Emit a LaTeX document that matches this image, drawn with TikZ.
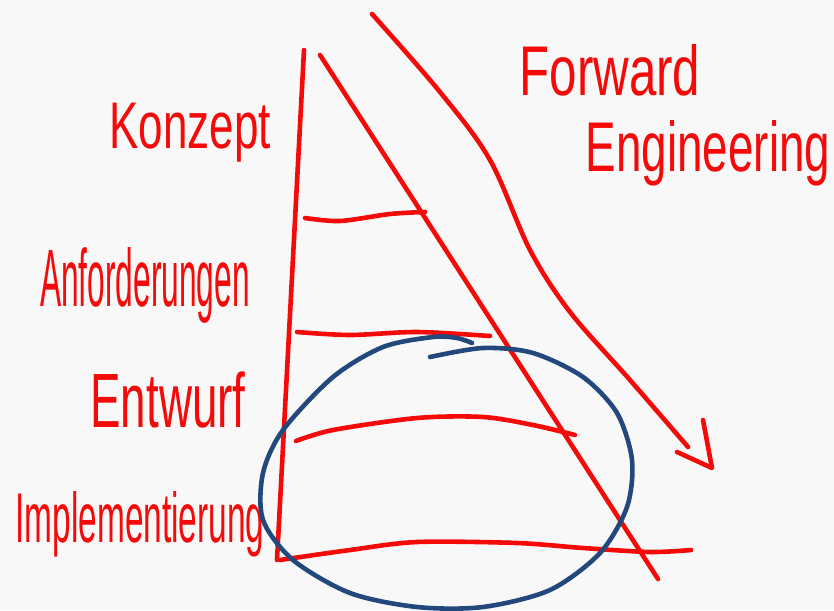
\documentclass[tikz,border=0pt]{standalone}
\usepackage{fontspec}
\setmainfont{Liberation Sans}
\usepackage{tikz}
\usetikzlibrary{arrows.meta}
\definecolor{pen}{HTML}{F50A0A}
\definecolor{marker}{HTML}{23497C}
\definecolor{paper}{HTML}{F8F8F8}

\begin{document}
\begin{tikzpicture}[
  x=1pt, y=1pt,
  stroke/.style={pen, line width=4.6pt, line cap=round, line join=round},
  ring/.style={marker, line width=4.6pt, line cap=round},
  hand/.style={text=pen, font=\fontsize{44}{44}\selectfont, inner sep=0pt,
               transform shape},
]

\fill[paper] (0,0) rectangle (834,-610);
\useasboundingbox (0,0) rectangle (834,-610);

% phase labels
\node[hand, xscale=1.00, yscale=1.50] (konzept) at (190,-133) {Konzept};
\node[hand, xscale=0.72, yscale=1.85] (anford) at (145,-285) {Anforderungen};
\node[hand, xscale=1.04, yscale=1.75] (entwurf) at (168,-400) {Entwurf};
\node[hand, xscale=0.76, yscale=1.60] (impl) at (140,-524) {Implementierung};
\node[hand, xscale=1.12, yscale=1.60] (fwd) at (610,-70) {Forward};
\node[hand, xscale=1.04, yscale=1.60] (eng) at (708,-153) {Engineering};

% the wedge
\draw[stroke] (304,-50) -- (277,-560);
\draw[stroke] (320,-55) -- (658,-579);

% rungs
\draw[stroke] plot[smooth] coordinates {(305,-218) (340,-221) (390,-214) (425,-212)};
\draw[stroke] plot[smooth] coordinates {(297,-332) (350,-335) (417,-332) (490,-336)};
\draw[stroke] plot[smooth] coordinates {(296,-441) (333,-430) (417,-418) (483,-417)
  (533,-425) (575,-435)};
\draw[stroke] plot[smooth] coordinates {(280,-560) (350,-550) (417,-542) (517,-543)
  (583,-548) (650,-552) (691,-550)};

% forward arrow
\draw[stroke] plot[smooth, tension=0.55] coordinates {(372,-14) (440,-92) (490,-160)
  (530,-250) (570,-312) (630,-380) (688,-447)};
\draw[stroke] (677,-452) -- (712,-468) -- (703,-420);

% circled part
\draw[ring] plot[smooth] coordinates {(430,-357) (483,-348) (533,-353) (583,-377)
  (617,-413) (632,-460) (627,-507) (600,-553) (550,-590) (483,-607) (417,-607)
  (350,-593) (293,-560) (263,-520) (263,-473) (283,-430) (333,-377) (383,-347)
  (433,-337) (457,-338) (472,-343)};

\end{tikzpicture}
\end{document}
